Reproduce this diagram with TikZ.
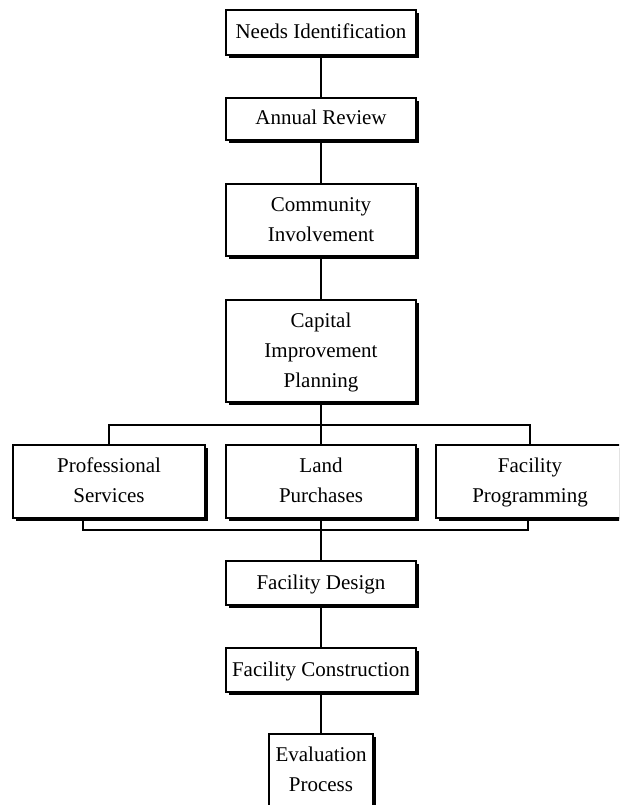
\documentclass[tikz,border=0pt]{standalone}
\usepackage{fontspec}
\setmainfont{Liberation Serif}
\usetikzlibrary{shadows}
\begin{document}
\begin{tikzpicture}[x=1pt,y=-1pt,
  box/.style={draw, line width=1.3pt, fill=white, align=center, inner sep=0pt,
    minimum width=190pt,
    font=\fontsize{21}{30}\selectfont,
    drop shadow={shadow xshift=3pt, shadow yshift=-3pt, fill=black, opacity=1}},
  link/.style={line width=1.3pt}]
\clip (0,0) rectangle (619,805);
\fill[white] (0,0) rectangle (619,805);
% boxes
\node[box, minimum height=45pt] (needs) at (321,32.5) {\strut Needs Identification};
\node[box, minimum height=42pt] (annual) at (321,119) {\strut Annual Review};
\node[box, minimum height=72pt] (community) at (321,220) {\strut Community\\\strut Involvement};
\node[box, minimum height=102pt] (capital) at (321,351) {\strut Capital\\\strut Improvement\\\strut Planning};
\node[box, minimum width=192pt, minimum height=73pt] (prof) at (109,481.5) {\strut Professional\\\strut Services};
\node[box, minimum height=73pt] (land) at (321,481.5) {\strut Land\\\strut Purchases};
\node[box, minimum width=188pt, minimum height=73pt] (prog) at (530,481.5) {\strut Facility\\\strut Programming};
\node[box, minimum height=44pt] (design) at (321,583) {\strut Facility Design};
\node[box, minimum height=44pt] (constr) at (321,670) {\strut Facility Construction};
\node[box, minimum width=104pt, minimum height=72pt] (eval) at (321,770) {\strut Evaluation\\\strut Process};
% junction coordinates
\coordinate (split) at (321,425);
\coordinate (mergeL) at (83,530);
\coordinate (mergeR) at (528,530);
% connectors
\draw[link] (needs) -- (annual);
\draw[link] (annual) -- (community);
\draw[link] (community) -- (capital);
\draw[link] (capital.south) -- (split);
\draw[link] (prof.north) |- (split) -| (prog.north);
\draw[link] (split) -- (land.north);
\draw[link] (prof.south -| mergeL) -- (mergeL) -- (mergeR) -- (prog.south -| mergeR);
\draw[link] (land.south) -- (design.north);
\draw[link] (design) -- (constr);
\draw[link] (constr) -- (eval);
\end{tikzpicture}
\end{document}
